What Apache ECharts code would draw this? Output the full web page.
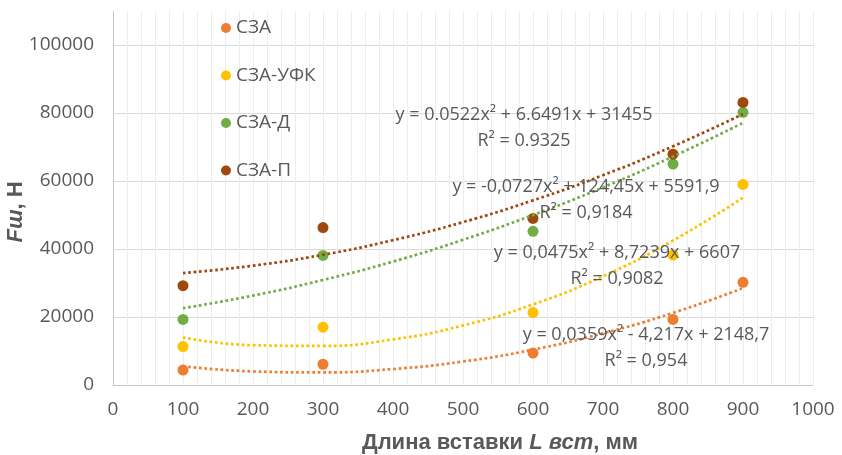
<!DOCTYPE html>
<html>
<head>
<meta charset="utf-8">
<title>Fш от длины вставки</title>
<script src="https://cdn.jsdelivr.net/npm/echarts@6.0.0/dist/echarts.min.js"></script>
<style>
  html, body { margin: 0; padding: 0; background: #fff; }
  #chart { width: 842px; height: 455px; }
</style>
</head>
<body>
<div id="chart"></div>
<script>
// исходные точки
const lengths = [100, 300, 600, 800, 900]
const szaVals = [4400, 6100, 9400, 19300, 30200]
const ufkVals = [11300, 17000, 21300, 38200, 59000]
const dVals = [19300, 38100, 45200, 65000, 80200]
const pVals = [29200, 46300, 49000, 67900, 83100]

// линии тренда (полином 2-й степени)
const trendX = [100, 200, 300, 400, 500, 600, 700, 800, 900]
const szaTrend = [5500, 4000, 3700, 4700, 6900, 10400, 15200, 21200, 28500]
const ufkTrend = [14000, 11700, 11500, 13400, 17500, 23700, 32000, 42500, 55100]
const dTrend = [22600, 26300, 30900, 36300, 42700, 50000, 58100, 67200, 77100]
const pTrend = [32900, 35100, 38300, 42600, 47900, 54300, 61700, 70200, 79700]

const names = ['СЗА', 'СЗА-УФК', 'СЗА-Д', 'СЗА-П']
const colors = ['#ED7D31', '#FFC000', '#70AD47', '#9E480E']

const equations = [
  ['y = 0.0522x² + 6.6491x + 31455', 'R² = 0.9325'],
  ['y = -0,0727x² + 124,45x + 5591,9', 'R² = 0,9184'],
  ['y = 0,0475x² + 8,7239x + 6607', 'R² = 0,9082'],
  ['y = 0,0359x² - 4,217x + 2148,7', 'R² = 0,954']
]
// центры подписей уравнений (px)
const eqPos = [[524, 115], [586, 187], [617, 253], [646, 335]]

const pointSets = [szaVals, ufkVals, dVals, pVals]
const trendSets = [szaTrend, ufkTrend, dTrend, pTrend]

const FONT = '"Open Sans", sans-serif'
const GREY = '#595959'

const chart = echarts.init(document.getElementById('chart'))

const series = []
pointSets.forEach((vals, i) => {
  series.push({
    name: names[i],
    type: 'scatter',
    symbol: 'circle',
    symbolSize: 11,
    itemStyle: { color: colors[i], opacity: 1 },
    data: lengths.map((x, k) => [x, vals[k]]),
    z: 2
  })
})
trendSets.forEach((vals, i) => {
  series.push({
    name: 'trend-' + i,
    type: 'line',
    smooth: true,
    symbol: 'none',
    silent: true,
    lineStyle: { color: colors[i], width: 2.7, type: [2.7, 2.7], cap: 'butt' },
    data: trendX.map((x, k) => [x, vals[k]]),
    z: 3
  })
})

const graphics = []
equations.forEach((eq, i) => {
  eq.forEach((line, j) => {
    graphics.push({
      type: 'text',
      x: eqPos[i][0],
      y: eqPos[i][1] + j * 26,
      z: 10,
      style: {
        text: line,
        fill: GREY,
        font: '18px ' + FONT,
        textAlign: 'center',
        textVerticalAlign: 'middle'
      }
    })
  })
})
// подписи осей
const titleRich = {
  a: { font: 'italic bold 22px "Liberation Sans", Arial', fill: GREY },
  b: { font: 'bold 22px "Liberation Sans", Arial', fill: GREY }
}
graphics.push({
  type: 'text',
  x: 16,
  y: 212,
  rotation: Math.PI / 2,
  style: {
    text: '{a|Fш}{b|, Н}',
    textAlign: 'center',
    textVerticalAlign: 'middle',
    rich: titleRich
  }
})
graphics.push({
  type: 'text',
  x: 500,
  y: 443,
  style: {
    text: '{b|Длина вставки }{a|L вст}{b|, мм}',
    textAlign: 'center',
    textVerticalAlign: 'middle',
    rich: titleRich
  }
})

const option = {
  backgroundColor: '#fff',
  animation: false,
  grid: { left: 113, right: 29, top: 11, bottom: 70 },
  legend: {
    data: names,
    orient: 'vertical',
    left: 216,
    top: 11,
    icon: 'circle',
    itemWidth: 10,
    itemHeight: 10,
    itemGap: 23.5,
    itemStyle: { opacity: 1 },
    textStyle: { fontFamily: FONT, fontSize: 19, color: GREY, lineHeight: 24 }
  },
  xAxis: {
    type: 'value',
    min: 0,
    max: 1000,
    interval: 100,
    axisLine: { show: true, lineStyle: { color: '#c8c8c8' } },
    axisTick: { show: false },
    axisLabel: { margin: 15, fontFamily: FONT, fontSize: 19, color: GREY, formatter: v => String(v) },
    splitLine: { show: true, lineStyle: { color: '#ededed' } },
    minorTick: { show: false, splitNumber: 5 },
    minorSplitLine: { show: true, lineStyle: { color: '#ededed' } }
  },
  yAxis: {
    type: 'value',
    min: 0,
    max: 110000,
    interval: 20000,
    axisLine: { show: true, lineStyle: { color: '#c8c8c8' } },
    axisTick: { show: false },
    axisLabel: { margin: 19, fontFamily: FONT, fontSize: 19, color: GREY, showMaxLabel: false, formatter: v => String(v) },
    splitLine: { show: true, showMaxLine: false, lineStyle: { color: '#d9d9d9' } }
  },
  graphic: graphics,
  series: series
}

chart.setOption(option)
</script>
</body>
</html>
